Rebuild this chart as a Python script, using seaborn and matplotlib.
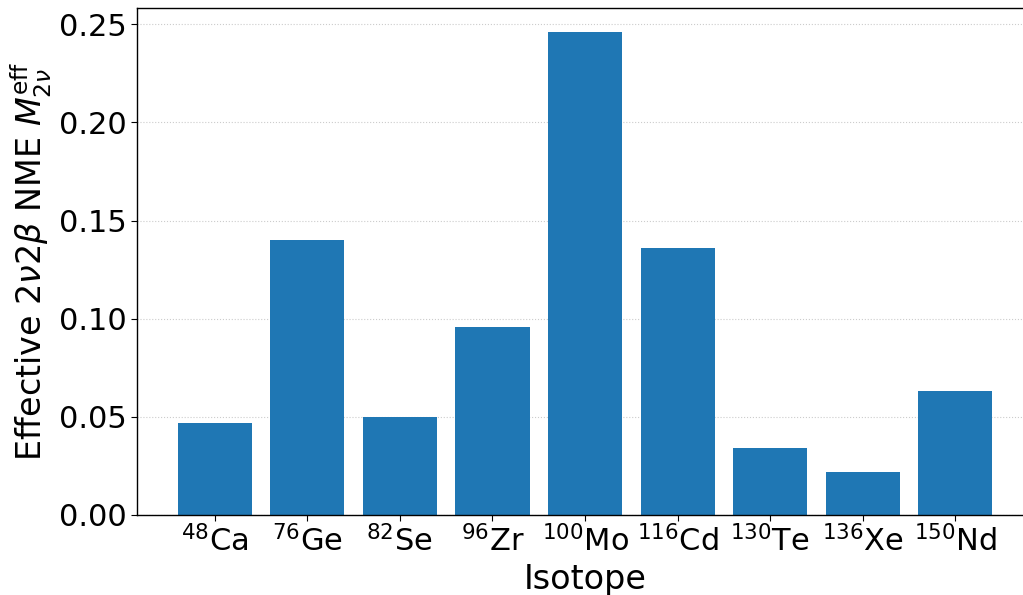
import matplotlib
matplotlib.use("Agg")
import matplotlib.pyplot as plt
import seaborn as sns
import pandas as pd

# effective 2v2b nuclear matrix elements
isotopes = ["48Ca", "76Ge", "82Se", "96Zr", "100Mo", "116Cd", "130Te", "136Xe", "150Nd"]
mass_numbers = ["48", "76", "82", "96", "100", "116", "130", "136", "150"]
elements = ["Ca", "Ge", "Se", "Zr", "Mo", "Cd", "Te", "Xe", "Nd"]
nme_eff = [0.047, 0.140, 0.050, 0.096, 0.246, 0.136, 0.034, 0.022, 0.063]

tick_labels = [rf"$^{{{a}}}$" + el for a, el in zip(mass_numbers, elements)]

df = pd.DataFrame({"isotope": isotopes, "nme": nme_eff})

sns.set_style("ticks", {"text.color": "black", "axes.labelcolor": "black",
                        "xtick.color": "black", "ytick.color": "black",
                        "axes.edgecolor": "black"})
plt.rcParams["font.family"] = ["DejaVu Sans"]

fig = plt.figure(figsize=(10.23, 5.95), dpi=100)
# axes run past the right edge, as in the cropped original
ax = fig.add_axes([0.1339, 0.1345, 0.876, 0.852])

sns.barplot(data=df, x="isotope", y="nme", color="#1f77b4", saturation=1,
            width=0.8, linewidth=0, ax=ax, zorder=2)

ax.set_xticks(range(len(tick_labels)))
ax.set_xticklabels(tick_labels)
ax.tick_params(axis="both", labelsize=22, length=4, width=0.8)
ax.set_xlabel("Isotope", fontsize=24)
ax.set_ylabel(r"Effective $2\nu2\beta$ NME $M_{2\nu}^{\mathrm{eff}}$", fontsize=24)
ax.set_yticks([0.0, 0.05, 0.10, 0.15, 0.20, 0.25])
ax.set_yticklabels(["0.00", "0.05", "0.10", "0.15", "0.20", "0.25"])
ax.set_xlim(-0.84, 8.84)
ax.set_ylim(0, 0.2583)
ax.yaxis.grid(True, linestyle=":", color="0.8", linewidth=0.8, zorder=0)
ax.set_axisbelow(True)
for side in ["top", "right", "left", "bottom"]:
    ax.spines[side].set_visible(True)
    ax.spines[side].set_linewidth(1.0)

fig.savefig("out.png", dpi=100)
plt.close(fig)
